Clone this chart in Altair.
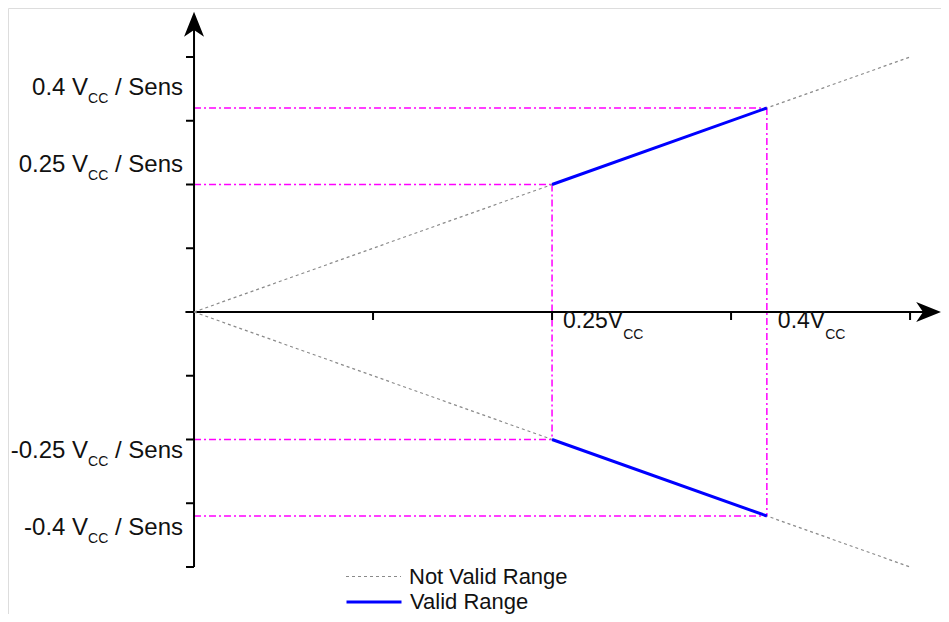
import altair as alt
import pandas as pd

# ---------------- data ----------------
# line segments: two points each
nv_name = "Not Valid Range"
v_name = "Valid Range"

nv_seg = ["up", "up", "dn", "dn"]
nv_x = [0.0, 0.5, 0.0, 0.5]
nv_y = [0.0, 0.5, 0.0, -0.5]

v_seg = ["up", "up", "dn", "dn"]
v_x = [0.25, 0.4, 0.25, 0.4]
v_y = [0.25, 0.4, -0.25, -0.4]

# magenta guide lines (x..x2, y..y2)
guide_x = [0.0, 0.0, 0.0, 0.0, 0.25, 0.4]
guide_x2 = [0.4, 0.25, 0.25, 0.4, 0.25, 0.4]
guide_y = [0.4, 0.25, -0.25, -0.4, 0.25, 0.4]
guide_y2 = [0.4, 0.25, -0.25, -0.4, -0.25, -0.4]

# axis ticks
x_ticks = [0.125, 0.25, 0.375, 0.5]
y_ticks = [0.5, 0.375, 0.25, 0.125, -0.125, -0.25, -0.375, -0.5]

# axis extents
x_axis_start, x_axis_end = -0.006, 0.513
y_axis_bottom, y_axis_top = -0.5, 0.564

# tick labels
y_label_values = [0.4, 0.25, -0.25, -0.4]
y_label_main = ["0.4 V", "0.25 V", "-0.25 V", "-0.4 V"]
y_label_sub = ["CC", "CC", "CC", "CC"]
y_label_tail = ["/ Sens", "/ Sens", "/ Sens", "/ Sens"]

x_label_values = [0.25, 0.4]
x_label_main = ["0.25V", "0.4V"]
x_label_sub = ["CC", "CC"]

# ---------------- style ----------------
FONT = "Liberation Sans"
TXT = "#111111"
MAIN_FS = 24
SUB_FS = 14
XL_FS = 23
LEG_FS = 22
GREY = "#8a8a8a"
BLUE = "#0000FF"

# Arial / Liberation Sans advance widths (per 1000 em)
ADV = {c: 556 for c in "0123456789"}
ADV.update({".": 278, " ": 278, "-": 333, "/": 278, "V": 667, "C": 722,
            "S": 667, "e": 556, "n": 556, "s": 500})


def tw(s, size):
    return sum(ADV[c] for c in s) * size / 1000.0


xscale = alt.Scale(domain=[-0.1299, 0.5216], nice=False, zero=False)
yscale = alt.Scale(domain=[-0.5922, 0.5961], nice=False, zero=False)


def X(f):
    return alt.X(f, type="quantitative", scale=xscale, axis=None)


def Y(f):
    return alt.Y(f, type="quantitative", scale=yscale, axis=None)


nv_df = pd.DataFrame({"series": [nv_name] * len(nv_x), "seg": nv_seg, "x": nv_x, "y": nv_y})
v_df = pd.DataFrame({"series": [v_name] * len(v_x), "seg": v_seg, "x": v_x, "y": v_y})
guide_df = pd.DataFrame({"x": guide_x, "x2": guide_x2, "y": guide_y, "y2": guide_y2})
axis_df = pd.DataFrame({
    "x": [x_axis_start, 0.0], "x2": [x_axis_end, 0.0],
    "y": [0.0, y_axis_bottom], "y2": [0.0, y_axis_top],
})
xt_df = pd.DataFrame({"x": x_ticks, "y": [0.0] * len(x_ticks)})
yt_df = pd.DataFrame({"x": [0.0] * len(y_ticks), "y": y_ticks})
arrow_up_df = pd.DataFrame({"x": [0.0], "y": [y_axis_top]})
arrow_rt_df = pd.DataFrame({"x": [x_axis_end], "y": [0.0]})

layers = []

# magenta guides
layers.append(
    alt.Chart(guide_df).mark_rule(color="#FF00FF", strokeWidth=1.5, strokeDash=[7, 3, 2, 3])
    .encode(x=X("x"), x2="x2", y=Y("y"), y2="y2")
)

# axis lines
layers.append(
    alt.Chart(axis_df).mark_rule(color="black", strokeWidth=2)
    .encode(x=X("x"), x2="x2", y=Y("y"), y2="y2")
)

# ticks
layers.append(
    alt.Chart(xt_df).mark_point(shape="M0,0L0,1", size=256, filled=False, color="black", strokeWidth=2, opacity=1)
    .encode(x=X("x"), y=Y("y"))
)
layers.append(
    alt.Chart(yt_df).mark_point(shape="M-1,0L0,0", size=256, filled=False, color="black", strokeWidth=2, opacity=1)
    .encode(x=X("x"), y=Y("y"))
)

# arrow heads
layers.append(
    alt.Chart(arrow_up_df).mark_point(shape="M0,-1L0.8,1L0,0.45L-0.8,1Z", size=625, filled=True, color="black", opacity=1)
    .encode(x=X("x"), y=Y("y"))
)
layers.append(
    alt.Chart(arrow_rt_df).mark_point(shape="M1,0L-1,0.8L-0.45,0L-1,-0.8Z", size=625, filled=True, color="black", opacity=1)
    .encode(x=X("x"), y=Y("y"))
)


def legend_for(ly, dash, width):
    return alt.Legend(
        orient="none", legendX=337, legendY=ly, title=None, symbolType="stroke",
        symbolSize=3025, labelFontSize=LEG_FS, labelFont=FONT, labelColor=TXT, labelLimit=400,
        padding=0, labelOffset=7, symbolDash=dash, symbolStrokeWidth=width,
    )


# not valid range (grey dotted)
layers.append(
    alt.Chart(nv_df).mark_line(strokeDash=[3, 3], strokeWidth=1.2)
    .encode(
        x=X("x"), y=Y("y"), detail="seg:N",
        color=alt.Color("series:N", scale=alt.Scale(domain=[nv_name], range=[GREY]),
                        legend=legend_for(540, [3, 3], 1.2)),
    )
)
# valid range (blue solid)
layers.append(
    alt.Chart(v_df).mark_line(strokeWidth=3)
    .encode(
        x=X("x"), y=Y("y"), detail="seg:N",
        color=alt.Color("series:N", scale=alt.Scale(domain=[v_name], range=[BLUE]),
                        legend=legend_for(565, [1, 0], 3)),
    )
)

# y labels (right aligned, left of the y axis)
ylab_df = pd.DataFrame({"v": y_label_values, "main": y_label_main, "sub": y_label_sub, "tail": y_label_tail})
tail_dx = -11
sub_dx = tail_dx - tw("/ Sens", MAIN_FS) - tw(" ", MAIN_FS)
main_dx = sub_dx - tw("CC", SUB_FS)
for positive, dy in [(True, -13), (False, 19)]:
    d = ylab_df[(ylab_df["v"] > 0) == positive]
    base = alt.Chart(d).transform_calculate(ax="0")
    layers.append(base.mark_text(align="right", baseline="alphabetic", dx=tail_dx, dy=dy, fontSize=MAIN_FS, font=FONT, color=TXT)
                  .encode(x=X("ax"), y=Y("v"), text="tail:N"))
    layers.append(base.mark_text(align="right", baseline="alphabetic", dx=sub_dx, dy=dy + 8, fontSize=SUB_FS, font=FONT, color=TXT)
                  .encode(x=X("ax"), y=Y("v"), text="sub:N"))
    layers.append(base.mark_text(align="right", baseline="alphabetic", dx=main_dx, dy=dy, fontSize=MAIN_FS, font=FONT, color=TXT)
                  .encode(x=X("ax"), y=Y("v"), text="main:N"))

# x labels (left aligned, right of the tick, below the axis)
xlab_df = pd.DataFrame({"v": x_label_values, "main": x_label_main, "sub": x_label_sub})
for i in range(len(xlab_df)):
    d = xlab_df.iloc[[i]]
    base = alt.Chart(d).transform_calculate(ay="0")
    layers.append(base.mark_text(align="left", baseline="alphabetic", dx=11, dy=16, fontSize=XL_FS, font=FONT, color=TXT)
                  .encode(x=X("v"), y=Y("ay"), text="main:N"))
    layers.append(base.mark_text(align="left", baseline="alphabetic", dx=11 + tw(x_label_main[i], XL_FS), dy=27,
                                 fontSize=SUB_FS, font=FONT, color=TXT)
                  .encode(x=X("v"), y=Y("ay"), text="sub:N"))

chart = (
    alt.layer(*layers)
    .resolve_scale(color="independent")
    .properties(width=933, height=606, padding=0, autosize=alt.AutoSizeParams(type="none"))
    .configure_view(stroke="transparent", strokeWidth=0)
    .configure(background="white")
)

chart.save("out.html", embed_options={"renderer": "svg", "actions": False})
